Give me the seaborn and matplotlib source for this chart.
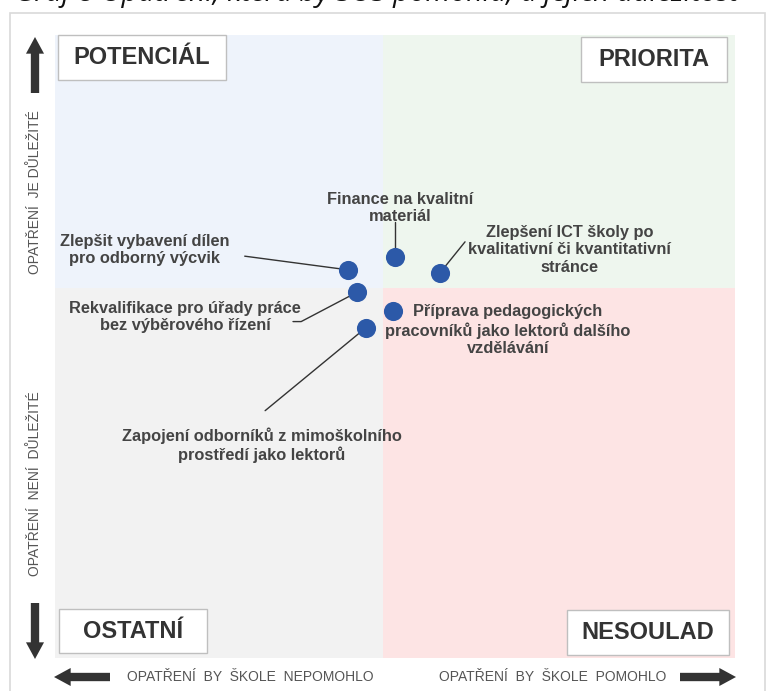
import matplotlib
matplotlib.use("Agg")
import matplotlib.pyplot as plt
from matplotlib.patches import Rectangle
import matplotlib.patches as mpatches
import seaborn as sns
import pandas as pd

# ---- data ----
measures = [
    "Zlepšit vybavení dílen\npro odborný výcvik",
    "Finance na kvalitní\nmateriál",
    "Zlepšení ICT školy po\nkvalitativní či kvantitativní\nstránce",
    "Rekvalifikace pro úřady práce\nbez výběrového řízení",
    "Příprava pedagogických\npracovníků jako lektorů dalšího\nvzdělávání",
    "Zapojení odborníků z mimoškolního\nprostředí jako lektorů",
]
helpfulness = [4.31, 5.00, 5.66, 4.44, 4.97, 4.57]
importance = [6.23, 6.44, 6.18, 5.87, 5.57, 5.30]
label_x = [1.32, 5.07, 7.57, 1.91, 6.66, 3.04]
label_y = [6.55, 7.22, 6.55, 5.47, 5.26, 3.42]
quadrants = ["POTENCIÁL", "PRIORITA", "OSTATNÍ", "NESOULAD"]
x_split = 4.82
y_split = 5.94

W, H = 768, 691
sns.set_theme(style="white")
FAM = ["Liberation Sans", "DejaVu Sans"]
plt.rcParams["font.family"] = FAM

fig = plt.figure(figsize=(W / 100, H / 100), dpi=100)
fig.patch.set_facecolor("white")

def fx(px):
    return px / W

def fy(py):
    return 1 - py / H

# outer frame
fig.patches.append(Rectangle((fx(10), fy(700)), fx(755), 700 / H - 13 / H,
                             transform=fig.transFigure, fill=False,
                             edgecolor="#d9d9d9", lw=1.2))

# title (cut off at top, as in the source)
fig.text(fx(15), fy(0.5), "Graf 8 Opatření, která by SOŠ pomohla, a jejich důležitost",
         fontsize=20.5, style="italic", family=["Open Sans", "DejaVu Sans"],
         ha="left", va="baseline", color="#111111")

ax = fig.add_axes([fx(55), fy(658), fx(735) - fx(55), fy(35) - fy(658)])
ax.set_xlim(0, 10)
ax.set_ylim(0, 10)
for s in ax.spines.values():
    s.set_visible(False)
ax.set_xticks([])
ax.set_yticks([])

# quadrant backgrounds
ax.add_patch(Rectangle((0, y_split), x_split, 10 - y_split, color="#eef3fb", lw=0, zorder=0))
ax.add_patch(Rectangle((x_split, y_split), 10 - x_split, 10 - y_split, color="#eef6ee", lw=0, zorder=0))
ax.add_patch(Rectangle((0, 0), x_split, y_split, color="#f2f2f2", lw=0, zorder=0))
ax.add_patch(Rectangle((x_split, 0), 10 - x_split, y_split, color="#fde4e4", lw=0, zorder=0))

df = pd.DataFrame({"x": helpfulness, "y": importance, "label": measures})
sns.scatterplot(data=df, x="x", y="y", ax=ax, s=190, color="#2c59a8",
                edgecolor="#2c59a8", linewidth=0, zorder=5, legend=False)
ax.set_xlabel("")
ax.set_ylabel("")

# leader lines (start points in data coords)
line_start = [(2.79, 6.45), None, (6.03, 6.68), (3.62, 5.40), None, (3.09, 3.97)]
for i, (x, y, lab) in enumerate(zip(helpfulness, importance, measures)):
    ax.text(label_x[i], label_y[i], lab, ha="center", va="center", fontsize=11.8,
            fontweight="bold", color="#444444", linespacing=1.2, zorder=6)
    if i == 1:
        ax.plot([x, x], [y + 0.12, 7.0], color="#333333", lw=1, zorder=4)
    elif i == 3:
        sx, sy = line_start[i]
        ax.plot([sx - 0.12, sx, x], [sy, sy, y], color="#333333", lw=1, zorder=4)
    elif line_start[i] is not None:
        sx, sy = line_start[i]
        ax.plot([sx, x], [sy, y], color="#333333", lw=1, zorder=4)

# quadrant labels
def qbox(x0, y0, x1, y1, text):
    fig.patches.append(Rectangle((fx(x0), fy(y1)), fx(x1) - fx(x0), fy(y0) - fy(y1),
                                 transform=fig.transFigure, facecolor="white",
                                 edgecolor="#bfbfbf", lw=1, zorder=3))
    fig.text(fx((x0 + x1) / 2), fy((y0 + y1) / 2), text, ha="center", va="center",
             fontsize=17, fontweight="bold", color="#333333", zorder=4)

qbox(58, 35, 226, 80, quadrants[0])
qbox(581, 37, 727, 82, quadrants[1])
qbox(59, 609, 207, 653, quadrants[2])
qbox(567, 610, 729, 655, quadrants[3])

# side arrows
def arrow_px(x0, y0, x1, y1, shaft=6, head_w=13, head_l=12):
    a = mpatches.FancyArrowPatch((x0, H - y0), (x1, H - y1),
                                 arrowstyle=f"simple,head_width={head_w/2.8},head_length={head_l/2.8},tail_width={shaft/2.8}",
                                 transform=None, color="#333333", lw=0,
                                 shrinkA=0, shrinkB=0, mutation_scale=2.8)
    fig.patches.append(a)

arrow_px(35, 93, 35, 37)
arrow_px(35, 603, 35, 659)
arrow_px(110, 677, 54, 677)
arrow_px(680, 677, 736, 677)

side_kw = dict(fontsize=10, color="#555555", ha="center", va="center")
fig.text(fx(35), fy(192), "OPATŘENÍ  JE DŮLEŽITÉ", rotation=90, **side_kw)
fig.text(fx(35), fy(484), "OPATŘENÍ  NENÍ  DŮLEŽITÉ", rotation=90, **side_kw)
fig.text(fx(250), fy(677), "OPATŘENÍ  BY  ŠKOLE  NEPOMOHLO", **side_kw)
fig.text(fx(553), fy(677), "OPATŘENÍ  BY  ŠKOLE  POMOHLO", **side_kw)

fig.savefig("out.png", dpi=100, facecolor="white")
